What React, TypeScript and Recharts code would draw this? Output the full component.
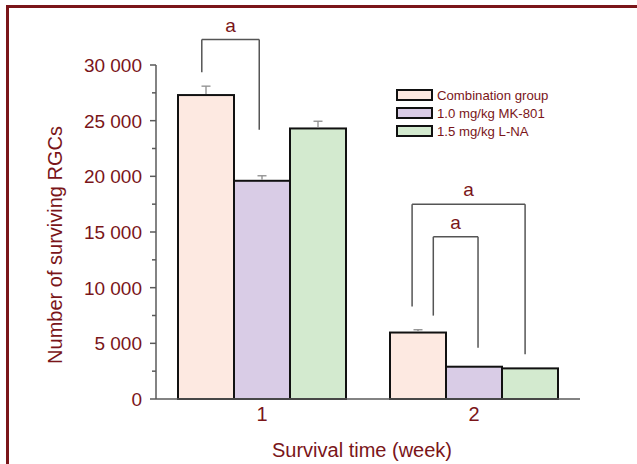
import React from 'react';
import { BarChart, Bar, XAxis, YAxis, Legend, ReferenceLine } from 'recharts';

// ---- data ----
const weeks = [1, 2];
const seriesNames = ['Combination group', '1.0 mg/kg MK-801', '1.5 mg/kg L-NA'];
const combination = [27300, 5970];
const mk801 = [19600, 2900];
const lna = [24300, 2750];
const combinationErr = [800, 250];
const mk801Err = [450, 0];
const lnaErr = [650, 0];
const yTicks = [0, 2500, 5000, 7500, 10000, 12500, 15000, 17500, 20000, 22500, 25000, 27500, 30000];

// significance brackets, in data units (x on the week axis)
const brackets = [
  { x1: 0.716, x2: 0.987, top: 32280, leftEnd: 29340, rightEnd: 24190, mark: 'a' },
  { x1: 1.708, x2: 2.241, top: 17500, leftEnd: 8300, rightEnd: 4020, mark: 'a' },
  { x1: 1.808, x2: 2.019, top: 14570, leftEnd: 7490, rightEnd: 4610, mark: 'a' },
];

const colors = ['#fde9e1', '#d9cce6', '#d3eacf'];
const textColor = '#7a1519';
const axisColor = '#5a5a5a';
const bracketColor = '#555555';
const errColor = '#8c8c8c';
const font = '"Liberation Sans", Arial, sans-serif';

const data = weeks.map((w, i) => ({
  week: w,
  combination: combination[i],
  mk801: mk801[i],
  lna: lna[i],
  combinationErr: combinationErr[i],
  mk801Err: mk801Err[i],
  lnaErr: lnaErr[i],
}));

const fmt = (v: number) =>
  v >= 1000 ? `${Math.floor(v / 1000)} ${String(v % 1000).padStart(3, '0')}` : String(v);

const YTick = (props: any) => {
  const { x, y, payload } = props;
  const v = payload.value;
  const major = v % 5000 === 0;
  return (
    <g>
      <line x1={x - (major ? 6 : 4)} x2={x} y1={y} y2={y} stroke={axisColor} strokeWidth={1.5} />
      {major && (
        <text x={x - 14} y={y} dy="0.36em" textAnchor="end" fill={textColor} fontSize={19} fontFamily={font}>
          {fmt(v)}
        </text>
      )}
    </g>
  );
};

// bar with an upper-only error whisker, scaled from the bar's own pixel height/value
const makeShape = (key: string) => (props: any) => {
  const { x, y, width, height, fill, payload } = props;
  const value = payload[key];
  const err = payload[`${key}Err`];
  const errPx = value ? (height * err) / value : 0;
  const cx = x + width / 2;
  return (
    <g>
      <rect x={x} y={y} width={width} height={height} fill={fill} stroke="#111" strokeWidth={2} />
      {err > 0 && (
        <g stroke={errColor} strokeWidth={1.3}>
          <line x1={cx} x2={cx} y1={y - 1} y2={y - errPx} />
          <line x1={cx - 4.5} x2={cx + 4.5} y1={y - errPx} y2={y - errPx} />
        </g>
      )}
    </g>
  );
};

const LegendContent = () => (
  <div style={{ fontFamily: font, fontSize: 13.2, color: textColor }}>
    {seriesNames.map((n, i) => (
      <div key={n} style={{ display: 'flex', alignItems: 'center', height: 18 }}>
        <div
          style={{
            width: 37,
            height: 12,
            boxSizing: 'border-box',
            border: '2px solid #111',
            background: colors[i],
            marginRight: 4,
          }}
        />
        <span>{n}</span>
      </div>
    ))}
  </div>
);

const keys = ['combination', 'mk801', 'lna'];

export default function App() {
  return (
    <div style={{ position: 'absolute', left: 0, top: 0, width: 637, height: 464, background: '#fff' }}>
      <div
        style={{
          position: 'absolute',
          left: 6,
          top: 5,
          width: 631,
          height: 459,
          boxSizing: 'border-box',
          borderTop: `3px solid ${textColor}`,
          borderLeft: `3px solid ${textColor}`,
        }}
      />
      <div style={{ position: 'absolute', left: 0, top: 0 }}>
        <BarChart
          width={637}
          height={464}
          data={data}
          margin={{ top: 65, right: 57, bottom: 0, left: 56 }}
          barCategoryGap={22}
          barGap={0}
        >
          <XAxis
            dataKey="week"
            type="number"
            domain={[0.5, 2.5]}
            ticks={weeks}
            allowDataOverflow
            stroke={axisColor}
            strokeWidth={1.5}
            tickLine={false}
            height={65}
            tick={{ fill: textColor, fontSize: 20, fontFamily: font }}
            label={{
              content: (p: any) => {
                const vb = p.viewBox;
                return (
                  <text
                    x={vb.x + vb.width / 2 - 6}
                    y={vb.y + vb.height - 7}
                    textAnchor="middle"
                    fill={textColor}
                    fontSize={20}
                    fontFamily={font}
                  >
                    Survival time (week)
                  </text>
                );
              },
            }}
          />
          <YAxis
            width={100}
            domain={[0, 30000]}
            ticks={yTicks}
            interval={0}
            stroke={axisColor}
            strokeWidth={1.5}
            tickLine={false}
            tickSize={0}
            tickMargin={0}
            tick={<YTick />}
            label={{
              content: (p: any) => {
                const vb = p.viewBox;
                const cx = vb.x - 1;
                const cy = vb.y + vb.height / 2 + 13;
                return (
                  <text
                    x={cx}
                    y={cy}
                    transform={`rotate(-90, ${cx}, ${cy})`}
                    textAnchor="middle"
                    dominantBaseline="central"
                    fill={textColor}
                    fontSize={20}
                    fontFamily={font}
                  >
                    Number of surviving RGCs
                  </text>
                );
              },
            }}
          />
          <Legend
            layout="vertical"
            align="center"
            verticalAlign="middle"
            content={<LegendContent />}
            wrapperStyle={{ top: 86, left: 396, width: 'auto', height: 'auto' }}
          />
          {keys.map((k, i) => (
            <Bar
              key={k}
              dataKey={k}
              name={seriesNames[i]}
              fill={colors[i]}
              shape={makeShape(k)}
              isAnimationActive={false}
            />
          ))}
          {brackets.map((b, i) => (
            <ReferenceLine
              key={`t${i}`}
              ifOverflow="visible"
              segment={[{ x: b.x1, y: b.top }, { x: b.x2, y: b.top }]}
              stroke={bracketColor}
              strokeWidth={1.5}
              label={{ value: b.mark, position: 'top', offset: 8, fill: textColor, fontSize: 19, fontFamily: font }}
            />
          ))}
          {brackets.map((b, i) => (
            <ReferenceLine
              key={`l${i}`}
              ifOverflow="visible"
              segment={[{ x: b.x1, y: b.top }, { x: b.x1, y: b.leftEnd }]}
              stroke={bracketColor}
              strokeWidth={1.5}
            />
          ))}
          {brackets.map((b, i) => (
            <ReferenceLine
              key={`r${i}`}
              ifOverflow="visible"
              segment={[{ x: b.x2, y: b.top }, { x: b.x2, y: b.rightEnd }]}
              stroke={bracketColor}
              strokeWidth={1.5}
            />
          ))}
        </BarChart>
      </div>
    </div>
  );
}
